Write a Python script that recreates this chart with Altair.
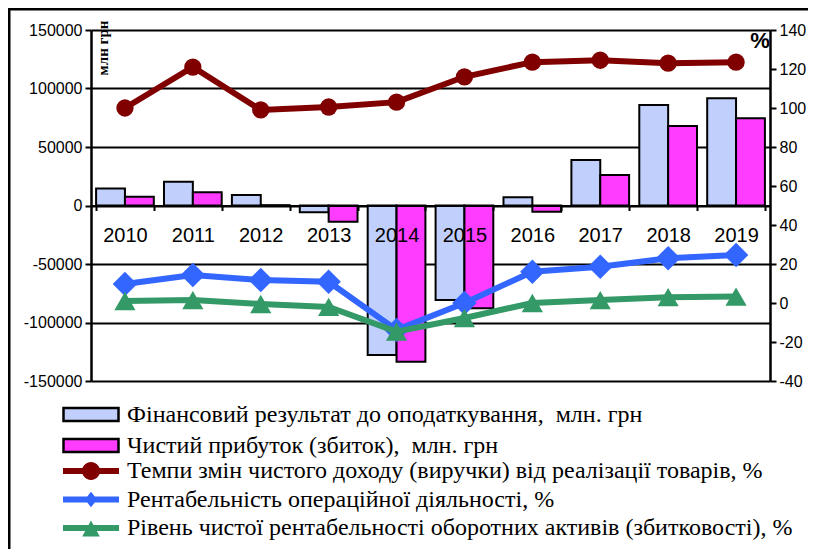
import math
import altair as alt
import pandas as pd

# ---------------- data ----------------
years = [str(y) for y in range(2010, 2020)]
fin_result = [14500, 20300, 9000, -5800, -127800, -80800, 7000, 38900, 85900, 91600]
net_profit = [7500, 11300, 300, -13800, -133500, -87900, -5300, 26000, 68000, 74500]
revenue_growth = [100, 121, 99, 100.5, 103, 116, 123.5, 124.5, 123, 123.5]
op_profitability = [9.7, 14.4, 11.8, 10.9, -13.8, 0, 16, 18.6, 23, 24.6]
asset_profitability = [1, 1.5, -0.5, -2, -14.7, -7.7, 0, 1.5, 3, 3.3]

bar_names = [
    "Фінансовий результат до оподаткування, \u00a0млн. грн",
    "Чистий прибуток (збиток), \u00a0млн. грн",
]
line_names = [
    "Темпи змін чистого доходу (виручки) від реалізації товарів, %",
    "Рентабельність операційної діяльності, %",
    "Рівень чистої рентабельності оборотних активів (збитковості), %",
]
left_ticks = [-150000, -100000, -50000, 0, 50000, 100000, 150000]
right_ticks = [-40, -20, 0, 20, 40, 60, 80, 100, 120, 140]

# ---------------- styles ----------------
BAR_COLORS = ["#c0cffb", "#ff3cff"]
RED, BLUE, GREEN = "#800000", "#3366ff", "#339966"
SANS = "Liberation Sans"
SERIF = "Liberation Serif"
LEGEND_FONT_SIZE = 24

bars_df = pd.DataFrame({
    "year": years * 2,
    "measure": [bar_names[0]] * len(years) + [bar_names[1]] * len(years),
    "value": fin_result + net_profit,
})
pct_df = pd.DataFrame({
    "year": years,
    "rev": revenue_growth,
    "op": op_profitability,
    "asset": asset_profitability,
})
legend_df = pd.DataFrame({"year": years[:3], "series": line_names, "v": [0, 0, 0]})

# legend symbol paths (unit = sqrt(symbolSize)/2 px)
def poly(pts):
    return "M " + " L ".join(f"{x:.3f} {y:.3f}" for x, y in pts) + " Z"

line_rect = poly([(-2.8, -0.3), (2.8, -0.3), (2.8, 0.3), (-2.8, 0.3)])
circle = poly([(0.9 * math.cos(-math.pi / 2 + 2 * math.pi * i / 28),
                0.9 * math.sin(-math.pi / 2 + 2 * math.pi * i / 28)) for i in range(28)])
diamond = poly([(0, -0.78), (0.62, 0), (0, 0.78), (-0.62, 0)])
triangle = poly([(0, -0.75), (0.88, 0.85), (-0.88, 0.85)])
bar_rect = poly([(-2.75, -0.65), (2.75, -0.65), (2.75, 0.65), (-2.75, 0.65)])

x_enc = alt.X(
    "year:N",
    sort=years,
    scale=alt.Scale(paddingInner=0.15, paddingOuter=0.075),
    axis=alt.Axis(
        title=None, labelAngle=0, labelFont=SANS, labelFontSize=20, labelColor="black",
        domainColor="black", domainWidth=2, tickColor="black", tickWidth=2, tickSize=5,
        tickBand="extent", labelPadding=15, offset=-175.5, zindex=1, grid=False,
    ),
)

left_axis = alt.Axis(
    title=None, values=left_ticks, labelExpr="'' + datum.value", labelFont=SANS,
    labelFontSize=16, labelColor="black", domainColor="black", domainWidth=2.5,
    tickColor="black", tickSize=6, tickWidth=2, labelPadding=3, grid=True,
    gridColor="black", gridWidth=2, gridOpacity=1,
)
right_axis = alt.Axis(
    title=None, orient="right", values=right_ticks, labelExpr="'' + datum.value",
    labelFont=SANS, labelFontSize=16, labelColor="black", domainColor="black",
    domainWidth=2.5, tickColor="black", tickSize=6, tickWidth=2, labelPadding=3, grid=False,
)
right_scale = alt.Scale(domain=[-40, 140], nice=False, zero=False)

bars = alt.Chart(bars_df).mark_bar(stroke="black", strokeWidth=2).encode(
    x=x_enc,
    xOffset=alt.XOffset("measure:N", sort=bar_names, scale=alt.Scale(paddingInner=0, paddingOuter=0)),
    y=alt.Y("value:Q", scale=alt.Scale(domain=[-150000, 150000], nice=False), axis=left_axis),
    fill=alt.Fill(
        "measure:N", sort=bar_names,
        scale=alt.Scale(domain=bar_names, range=BAR_COLORS),
        legend=alt.Legend(
            title=None, orient="none", legendX=-12, legendY=372.5, symbolType=bar_rect,
            symbolSize=400, symbolStrokeColor="black", symbolStrokeWidth=2.5,
            labelFont=SERIF, labelFontSize=LEGEND_FONT_SIZE, labelColor="black", labelLimit=900,
            labelOffset=24, rowPadding=7, padding=0,
        ),
    ),
)

base = alt.Chart(pct_df)

def series(col, color, shape, size):
    ln = base.mark_line(color=color, strokeWidth=6).encode(
        x=x_enc, y=alt.Y(f"{col}:Q", scale=right_scale, axis=right_axis))
    pt = base.mark_point(shape=shape, filled=True, size=size, color=color, opacity=1).encode(
        x=x_enc, y=alt.Y(f"{col}:Q", scale=right_scale, axis=right_axis))
    return [ln, pt]

line_legend = alt.Legend(
    title=None, orient="none", legendX=-12, legendY=429, symbolSize=400,
    symbolStrokeWidth=0, labelFont=SERIF, labelFontSize=LEGEND_FONT_SIZE, labelColor="black",
    labelLimit=900, labelOffset=24, rowPadding=4.5, padding=0,
)
legend_layer = alt.Chart(legend_df).mark_point(filled=True, opacity=1).encode(
    x=x_enc,
    y=alt.Y("v:Q", scale=right_scale, axis=right_axis),
    color=alt.Color("series:N", sort=line_names,
                    scale=alt.Scale(domain=line_names, range=[RED, BLUE, GREEN]),
                    legend=line_legend),
    shape=alt.Shape("series:N", sort=line_names,
                    scale=alt.Scale(domain=line_names,
                                    range=[line_rect + " " + circle,
                                           line_rect + " " + diamond,
                                           line_rect + " " + triangle]),
                    legend=line_legend),
).transform_filter("false")

right = alt.layer(
    *series("rev", RED, "circle", 300),
    *series("op", BLUE, "diamond", 600),
    *series("asset", GREEN, "triangle-up", 450),
    legend_layer,
)

pct_label = alt.Chart(pd.DataFrame({"t": ["%"]})).mark_text(
    font=SANS, fontSize=22, fontWeight="bold", color="black", align="center", baseline="middle"
).encode(x=alt.value(669), y=alt.value(11), text="t:N")

unit_label = alt.Chart(pd.DataFrame({"t": ["млн грн"]})).mark_text(
    font=SERIF, fontSize=15, fontWeight="bold", color="black", angle=270,
    align="center", baseline="middle"
).encode(x=alt.value(12), y=alt.value(18), text="t:N")

frame_df = pd.DataFrame({"k": ["top", "left"]})
frame_top = alt.Chart(frame_df).transform_filter("datum.k == 'top'").mark_rule(
    color="black", strokeWidth=3).encode(x=alt.value(-83), x2=alt.value(720), y=alt.value(-21))
frame_left = alt.Chart(frame_df).transform_filter("datum.k == 'left'").mark_rule(
    color="black", strokeWidth=3).encode(x=alt.value(-82), y=alt.value(-22), y2=alt.value(530))

chart = alt.layer(
    bars, right, pct_label, unit_label, frame_top, frame_left
).resolve_scale(
    y="independent"
).properties(
    width=679, height=351,
    autosize=alt.AutoSizeParams(type="none"),
    padding={"left": 83, "top": 22, "right": 38, "bottom": 168},
    background="white",
).configure_view(stroke=None)

chart.save("out.html", embed_options={"renderer": "svg", "actions": False})
